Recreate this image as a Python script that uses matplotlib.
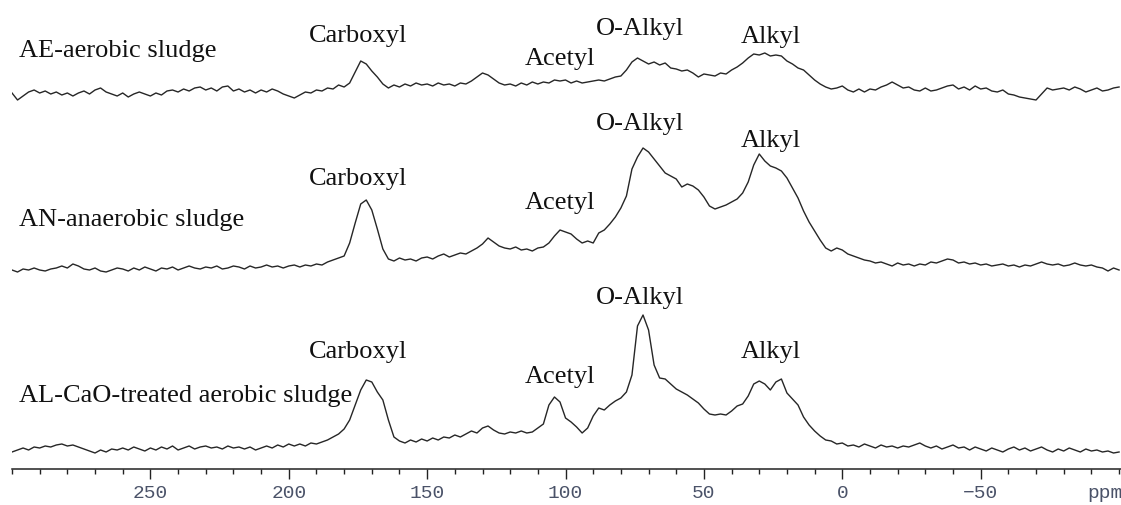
import matplotlib.pyplot as plt
import numpy as np
from matplotlib.ticker import MultipleLocator

# chemical shift axis, 300 -> -100 ppm, one reading every 2 ppm
ppm = np.arange(300, -101, -2)

# intensities (arbitrary units, above each trace's floor)
ae_aerobic = [
    7, 0, 4, 8, 10, 7, 9, 6, 8, 5,
    7, 4, 7, 9, 6, 10, 12, 8, 6, 4,
    7, 3, 6, 8, 6, 4, 7, 5, 9, 10,
    8, 11, 9, 12, 13, 10, 12, 9, 13, 14,
    9, 11, 8, 10, 7, 10, 8, 11, 9, 6,
    4, 2, 5, 8, 7, 10, 9, 12, 11, 15,
    13, 17, 28, 39, 36, 29, 23, 16, 12, 15,
    13, 16, 14, 17, 15, 16, 14, 17, 15, 16,
    14, 17, 16, 19, 23, 27, 25, 21, 17, 15,
    16, 14, 17, 15, 18, 16, 18, 17, 20, 19,
    20, 17, 19, 17, 18, 19, 20, 19, 21, 23,
    24, 30, 38, 42, 39, 36, 38, 35, 37, 32,
    31, 29, 30, 27, 23, 26, 25, 24, 27, 26,
    30, 33, 37, 42, 46, 45, 47, 44, 45, 44,
    39, 36, 32, 30, 25, 20, 16, 13, 11, 12,
    14, 10, 8, 11, 8, 11, 10, 13, 15, 18,
    15, 12, 13, 10, 9, 12, 9, 10, 12, 14,
    15, 11, 13, 10, 14, 11, 12, 9, 8, 10,
    6, 5, 3, 2, 1, 0, 6, 12, 10, 11,
    12, 10, 13, 11, 8, 10, 12, 9, 10, 12,
    13,
]

an_anaerobic = [
    2, 0, 3, 2, 4, 2, 1, 3, 4, 6,
    4, 8, 6, 3, 2, 4, 1, 0, 2, 4,
    3, 1, 4, 2, 5, 3, 1, 4, 3, 5,
    2, 4, 6, 4, 3, 5, 4, 6, 3, 4,
    6, 5, 3, 6, 4, 5, 7, 5, 6, 4,
    6, 7, 5, 7, 6, 8, 7, 10, 12, 14,
    16, 29, 49, 68, 72, 62, 43, 23, 13, 11,
    14, 12, 13, 11, 14, 15, 13, 16, 18, 15,
    17, 19, 18, 21, 24, 28, 34, 30, 26, 24,
    23, 25, 22, 23, 21, 24, 25, 29, 36, 42,
    40, 38, 33, 29, 31, 29, 39, 42, 48, 55,
    64, 76, 103, 115, 124, 120, 113, 106, 99, 96,
    93, 85, 88, 86, 82, 75, 66, 63, 65, 67,
    70, 73, 79, 90, 107, 118, 111, 106, 104, 101,
    94, 84, 74, 61, 50, 41, 32, 24, 21, 24,
    22, 18, 16, 14, 12, 11, 9, 10, 8, 6,
    9, 7, 8, 6, 8, 7, 10, 9, 11, 13,
    12, 9, 10, 8, 9, 7, 8, 6, 7, 8,
    6, 7, 5, 7, 6, 8, 10, 8, 7, 8,
    6, 7, 9, 7, 6, 7, 5, 4, 1, 4,
    2,
]

al_cao = [
    1, 3, 5, 3, 6, 5, 7, 6, 8, 9,
    7, 8, 6, 4, 2, 0, 3, 1, 4, 3,
    5, 3, 6, 4, 2, 5, 3, 6, 4, 7,
    3, 5, 7, 4, 6, 7, 5, 6, 4, 7,
    5, 6, 4, 6, 3, 5, 7, 5, 8, 6,
    9, 7, 9, 7, 10, 9, 11, 13, 16, 19,
    24, 33, 48, 63, 73, 71, 61, 53, 33, 16,
    12, 10, 13, 11, 14, 12, 15, 13, 16, 15,
    18, 16, 19, 22, 20, 25, 27, 23, 20, 19,
    21, 20, 22, 20, 21, 25, 29, 48, 56, 51,
    35, 31, 26, 20, 25, 37, 45, 43, 48, 52,
    55, 61, 78, 127, 138, 123, 88, 75, 74, 69,
    64, 61, 58, 54, 50, 44, 39, 38, 39, 38,
    42, 47, 49, 57, 69, 72, 69, 63, 71, 74,
    60, 54, 48, 36, 28, 22, 17, 13, 12, 9,
    10, 7, 8, 6, 9, 7, 5, 8, 6, 7,
    5, 7, 6, 8, 10, 7, 5, 7, 4, 6,
    8, 5, 6, 3, 6, 4, 2, 5, 3, 1,
    4, 6, 3, 5, 2, 4, 6, 3, 1, 4,
    2, 5, 3, 1, 4, 2, 3, 1, 2, 0,
    1,
]

samples = ['AE-aerobic sludge', 'AN-anaerobic sludge', 'AL-CaO-treated aerobic sludge']
spectra = [ae_aerobic, an_anaerobic, al_cao]
groups = ['Carboxyl', 'Acetyl', 'O-Alkyl', 'Alkyl']
group_ppm = [175, 102, 73, 26]

# layout: vertical offset of each trace and heights of its labels above it
offsets = [369, 197, 16]
name_dy = [43, 46, 51]
group_dy = [[58, 35, 65, 57],
            [87, 63, 142, 125],
            [95, 70, 149, 95]]

fig = plt.figure(figsize=(11.21, 5.05), dpi=100)
ax = fig.add_axes([12 / 1121, 36 / 505, 1109 / 1121, 469 / 505])

serif = dict(family='Liberation Serif', fontsize=19, color='#111111')

for spec, off, name, ndy, gdy in zip(spectra, offsets, samples, name_dy, group_dy):
    ax.plot(ppm, off + np.array(spec), color='#262626', lw=1.0)
    ax.text(297.3, off + ndy, name, ha='left', va='baseline', **serif)
    for g, gp, dy in zip(groups, group_ppm, gdy):
        ax.text(gp, off + dy, g, ha='center', va='baseline', **serif)

ax.set_xlim(300, -100.7)
ax.set_ylim(0, 469)

for s in ['top', 'left', 'right']:
    ax.spines[s].set_visible(False)
ax.spines['bottom'].set_linewidth(1.1)
ax.spines['bottom'].set_color('#222222')
ax.set_yticks([])

ax.set_xticks([250, 200, 150, 100, 50, 0, -50])
ax.set_xticklabels(['250', '200', '150', '100', '50', '0', '\u221250'])
ax.xaxis.set_minor_locator(MultipleLocator(10))
ax.tick_params(axis='x', which='major', length=7.5, width=1.0, color='#222222',
               pad=4, labelsize=14, labelcolor='#4a5268')
ax.tick_params(axis='x', which='minor', length=3.8, width=1.0, color='#222222')
for lab in ax.get_xticklabels():
    lab.set_family('Liberation Mono')

ax.annotate('ppm', xy=(-94.9, 0), xycoords=('data', 'axes fraction'),
            xytext=(0, -18), textcoords='offset points', ha='center', va='center',
            family='Liberation Mono', fontsize=14, color='#4a5268')

fig.savefig('out.png', dpi=100)
